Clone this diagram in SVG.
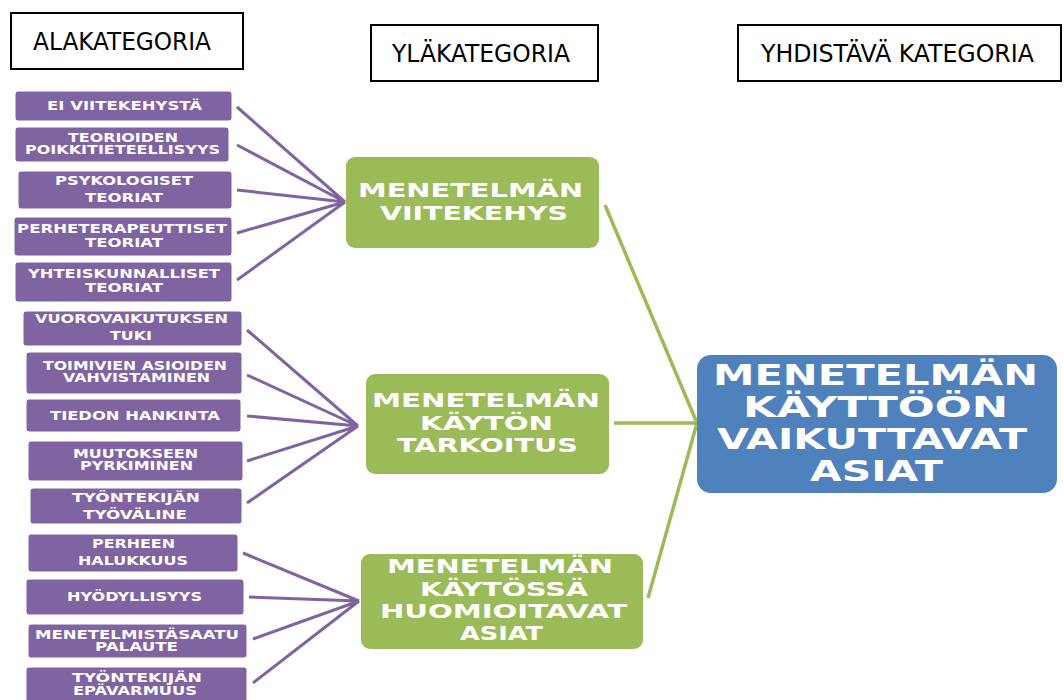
<svg xmlns="http://www.w3.org/2000/svg" width="1064" height="700" viewBox="0 0 1064 700">
<style>
.hdr{fill:#fff;stroke:#000;stroke-width:2}
.ht{font-family:"DejaVu Sans Condensed","DejaVu Sans",sans-serif;font-size:24px;fill:#000}
.pb{fill:#8064A2;stroke:#fff;stroke-width:1}
.pt{font-family:"DejaVu Sans",sans-serif;font-weight:bold;font-size:11.5px;fill:#fff}
.gb{fill:#9BBB59}
.gt{font-family:"DejaVu Sans",sans-serif;font-weight:bold;font-size:19px;fill:#fff}
.bb{fill:#4F81BD}
.bt{font-family:"DejaVu Sans",sans-serif;font-weight:bold;font-size:28px;fill:#fff}
.pl{stroke:#8064A2;stroke-width:3;fill:none}
.gl{stroke:#9BBB59;stroke-width:3.5;fill:none}
</style>
<rect width="1064" height="700" fill="#fff"/>
<g id="headers">
<g id="h-ala"><rect class="hdr" x="11" y="13" width="232" height="56"/><text class="ht" x="33" y="50" textLength="178" lengthAdjust="spacingAndGlyphs">ALAKATEGORIA</text></g>
<g id="h-yla"><rect class="hdr" x="371" y="25" width="227" height="56"/><text class="ht" x="392" y="62" textLength="178" lengthAdjust="spacingAndGlyphs">YLÄKATEGORIA</text></g>
<g id="h-yhd"><rect class="hdr" x="738" y="25" width="323" height="56"/><text class="ht" x="761" y="62" textLength="273" lengthAdjust="spacingAndGlyphs">YHDISTÄVÄ KATEGORIA</text></g>
</g>
<g id="connectors">
<path class="pl" d="M237 107L345 202M237 145L345 202M237 190L345 202M237 233L345 202M237 280L345 202"/>
<path class="pl" d="M247 330L358 426M247 375L358 426M247 416L358 426M247 461L358 426M247 503L358 426"/>
<path class="pl" d="M243 553L359 601M249 597L359 601M253 639L359 601M253 683L359 601"/>
<path class="gl" d="M605 205L697 423M614 423L697 423M648 598L697 423"/>
</g>
<g id="p1"><rect class="pb" x="15" y="91" width="217" height="30" rx="3"/><text class="pt" x="47" y="110" textLength="155" lengthAdjust="spacingAndGlyphs">EI VIITEKEHYSTÄ</text></g>
<g id="p2"><rect class="pb" x="15" y="127" width="214" height="35" rx="3"/><text class="pt" x="68" y="142" textLength="110" lengthAdjust="spacingAndGlyphs">TEORIOIDEN</text><text class="pt" x="25" y="154" textLength="195" lengthAdjust="spacingAndGlyphs">POIKKITIETEELLISYYS</text></g>
<g id="p3"><rect class="pb" x="18" y="171" width="214" height="38" rx="3"/><text class="pt" x="55" y="185" textLength="138" lengthAdjust="spacingAndGlyphs">PSYKOLOGISET</text><text class="pt" x="85" y="202" textLength="78" lengthAdjust="spacingAndGlyphs">TEORIAT</text></g>
<g id="p4"><rect class="pb" x="14" y="217" width="218" height="39" rx="3"/><text class="pt" x="17" y="233" textLength="210" lengthAdjust="spacingAndGlyphs">PERHETERAPEUTTISET</text><text class="pt" x="85" y="247" textLength="78" lengthAdjust="spacingAndGlyphs">TEORIAT</text></g>
<g id="p5"><rect class="pb" x="15" y="262" width="217" height="40" rx="3"/><text class="pt" x="28" y="278" textLength="192" lengthAdjust="spacingAndGlyphs">YHTEISKUNNALLISET</text><text class="pt" x="85" y="292" textLength="78" lengthAdjust="spacingAndGlyphs">TEORIAT</text></g>
<g id="p6"><rect class="pb" x="23" y="311" width="219" height="35" rx="3"/><text class="pt" x="35" y="323" textLength="193" lengthAdjust="spacingAndGlyphs">VUOROVAIKUTUKSEN</text><text class="pt" x="110" y="340" textLength="42" lengthAdjust="spacingAndGlyphs">TUKI</text></g>
<g id="p7"><rect class="pb" x="26" y="352" width="216" height="42" rx="3"/><text class="pt" x="43" y="370" textLength="184" lengthAdjust="spacingAndGlyphs">TOIMIVIEN ASIOIDEN</text><text class="pt" x="63" y="382" textLength="147" lengthAdjust="spacingAndGlyphs">VAHVISTAMINEN</text></g>
<g id="p8"><rect class="pb" x="26" y="399" width="215" height="33" rx="3"/><text class="pt" x="50" y="420" textLength="170" lengthAdjust="spacingAndGlyphs">TIEDON HANKINTA</text></g>
<g id="p9"><rect class="pb" x="28" y="441" width="215" height="40" rx="3"/><text class="pt" x="73" y="458" textLength="125" lengthAdjust="spacingAndGlyphs">MUUTOKSEEN</text><text class="pt" x="80" y="470" textLength="113" lengthAdjust="spacingAndGlyphs">PYRKIMINEN</text></g>
<g id="p10"><rect class="pb" x="30" y="488" width="212" height="36" rx="3"/><text class="pt" x="72" y="502" textLength="128" lengthAdjust="spacingAndGlyphs">TYÖNTEKIJÄN</text><text class="pt" x="83" y="519" textLength="104" lengthAdjust="spacingAndGlyphs">TYÖVÄLINE</text></g>
<g id="p11"><rect class="pb" x="28" y="534" width="210" height="38" rx="3"/><text class="pt" x="92" y="548" textLength="83" lengthAdjust="spacingAndGlyphs">PERHEEN</text><text class="pt" x="78" y="565" textLength="110" lengthAdjust="spacingAndGlyphs">HALUKKUUS</text></g>
<g id="p12"><rect class="pb" x="26" y="579" width="218" height="36" rx="3"/><text class="pt" x="67" y="601" textLength="135" lengthAdjust="spacingAndGlyphs">HYÖDYLLISYYS</text></g>
<g id="p13"><rect class="pb" x="28" y="624" width="219" height="34" rx="3"/><text class="pt" x="35" y="639" textLength="204" lengthAdjust="spacingAndGlyphs">MENETELMISTÄSAATU</text><text class="pt" x="95" y="651" textLength="83" lengthAdjust="spacingAndGlyphs">PALAUTE</text></g>
<g id="p14"><rect class="pb" x="26" y="667" width="221" height="40" rx="3"/><text class="pt" x="72" y="682" textLength="130" lengthAdjust="spacingAndGlyphs">TYÖNTEKIJÄN</text><text class="pt" x="73" y="695" textLength="124" lengthAdjust="spacingAndGlyphs">EPÄVARMUUS</text></g>
<g id="g1"><rect class="gb" x="346" y="157" width="253" height="91" rx="9"/><text class="gt" x="358" y="197" textLength="225" lengthAdjust="spacingAndGlyphs">MENETELMÄN</text><text class="gt" x="380" y="220" textLength="188" lengthAdjust="spacingAndGlyphs">VIITEKEHYS</text></g>
<g id="g2"><rect class="gb" x="366" y="374" width="243" height="100" rx="9"/><text class="gt" x="372" y="407" textLength="228" lengthAdjust="spacingAndGlyphs">MENETELMÄN</text><text class="gt" x="420" y="430" textLength="133" lengthAdjust="spacingAndGlyphs">KÄYTÖN</text><text class="gt" x="397" y="452" textLength="181" lengthAdjust="spacingAndGlyphs">TARKOITUS</text></g>
<g id="g3"><rect class="gb" x="361" y="554" width="282" height="95" rx="9"/><text class="gt" x="387" y="573" textLength="226" lengthAdjust="spacingAndGlyphs">MENETELMÄN</text><text class="gt" x="420" y="596" textLength="168" lengthAdjust="spacingAndGlyphs">KÄYTÖSSÄ</text><text class="gt" x="380" y="618" textLength="247" lengthAdjust="spacingAndGlyphs">HUOMIOITAVAT</text><text class="gt" x="460" y="640" textLength="83" lengthAdjust="spacingAndGlyphs">ASIAT</text></g>
<g id="b1"><rect class="bb" x="697" y="355" width="360" height="138" rx="14"/><text class="bt" x="713" y="385" textLength="325" lengthAdjust="spacingAndGlyphs">MENETELMÄN</text><text class="bt" x="743" y="417" textLength="265" lengthAdjust="spacingAndGlyphs">KÄYTTÖÖN</text><text class="bt" x="717" y="449" textLength="310" lengthAdjust="spacingAndGlyphs">VAIKUTTAVAT</text><text class="bt" x="810" y="481" textLength="133" lengthAdjust="spacingAndGlyphs">ASIAT</text></g>
</svg>
